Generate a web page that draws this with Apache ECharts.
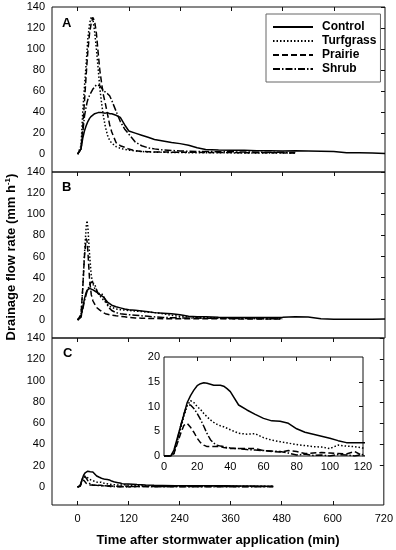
<!DOCTYPE html>
<html><head><meta charset="utf-8">
<script src="https://cdn.jsdelivr.net/npm/echarts@6/dist/echarts.min.js"></script>
<style>html,body{margin:0;padding:0;background:#fff}#c{width:396px;height:550px}</style>
</head><body><div id="c"></div>
<script>
// ---- data ----
const seriesNames = ['Control', 'Turfgrass', 'Prairie', 'Shrub'];
const xTicks = [0, 120, 240, 360, 480, 600, 720];
const yTicks = [0, 20, 40, 60, 80, 100, 120, 140];

// Panels A and B share the time grid (min)
const timeAB = [0,4,8,12,16,20,22,24,28,32,36,40,44,48,52,56,60,65,70,75,80,90,100,110,120,135,150,165,180,200,220,240,260,280,300,330,360,390,420,450,480,510,540,570,600,630,660,690,720];

const aControl = [0,0,5,15,22,27,29,31, 34,36,37.5,38.5,39,39.5,40,39.5,39, 39,39.5,38.5,38.5, 37,35,28,22, 20,18,16,14, 12.5,11,10,8.5,6,4.5, 4,3.8,3.7,3.3,3.3,3.1,3.2, 3,2.8,2.5,1.4,1.2,1,0.6];
const aTurfgrass = [0,0,8,40,64,86,98,110, 124,131,128,116,100,82,63,49,37, 26,18,13,10.5, 7.2,5.5,4.5,3.8, 3,2.5,2.1,1.9, 1.7,1.6,1.5,1.4,1.3,1.3, 1.2,1.2,1.1,1.1,1,1,1, null,null,null,null,null,null,null];
const aPrairie = [0,0,5,25,50,75,87,98, 115,125,130,126,115,97,80,68,57, 48,38,28,21, 11,8,6.5,4.8, 3.2,2.5,2.3,2, 2,1.9,1.8,1.8,1.7,1.6, 1.5,1.5,1.4,1.3,1.2,1.2,1.1, null,null,null,null,null,null,null];
const aShrub = [0,0,5,20,36,45,49,52, 56,59,62,64,66,67,65,63,61, 59,57.5,55.5,51, 41,31,24,19, 11.5,8,6,5, 4,3.5,3,2.8,2.6,2.5, 2.3,2.2,2,1.9,1.8,1.7,1.6, null,null,null,null,null,null,null];

const bControl = [0,0,3,12,20,26,28,29, 30,29.5,28.5,27.5,26.5,25,24,23,22, 19.5,17,15.5,14, 12.5,11.5,10.5,9.8, 9.2,8.5,7.8,7, 6.5,6,5,3.5,3,3, 2.7,2.5,2.4,2.4,2.5,2.7,3, 2.8,1.2,0.8,0.7,0.8,0.8,1];
const bTurfgrass = [0,0,5,30,62,88,94,88, 62,42,34,30,27,25,23,21,19.5, 17,15,13,12, 10.5,9.8,9.4,9, 8.5,8,7.5,7, 6,4.5,3.5,3,2.5,2.2, 2,1.8,1.7,1.6,1.5,1.5, null, null,null,null,null,null,null,null];
const bPrairie = [0,0,5,30,60,77,75,65, 38,24,18,15,12,10.5,9.4,8,7, 6,5.5,5,4.7, 4,3.5,3,2.5, 2,1.7,1.5,1.4, 1.3,1.3,1.2,1.2,1.2,1.1, 1.1,1.1,1,1,1,1, null, null,null,null,null,null,null,null];
const bShrub = [0,0,3,10,18,24,27,29, 33,36,37,34,29,25,24,25,23, 19,14,11,9, 7,6,5.5,5, 4.5,4,3.5,3, 2.5,2.2,2,1.9,1.8,1.7, 1.6,1.5,1.4,1.3,1.3,1.2, null, null,null,null,null,null,null,null];

// Panel C (main + inset share the same data)
const timeC = [0,4,6,8,10,12,14,16,18,20, 22,24,26,28,30,32,34,36,38,40, 45,50,55,60,65,70,75,80,85,90,95,100,105,110,115,120, 140,160,180,200, 230,260,290,320,350,380,410,440,460];
const cControl = [0,0,1.2,3.6,6,8.4,10.8,12.2,13.3,14.2, 14.6,14.8,14.7,14.5,14.3,14.3,14.3,14.1,13.6,13, 10.3,9.3,8.4,7.6,7.1,7,6.6,5.5,4.8,4.4,4,3.6,3.1,2.7,2.7,2.7, 2.2,1.8,1.5,1.4, 1.2,1.1,1,1,1,0.9,0.8,0.7,0.6];
const cTurfgrass = [0,0,0.5,3,5.5,8,10.2,11.2,10.8,10, 9.4,8.6,7.9,7.3,6.8,6.4,6.1,5.9,5.6,5.3, 4.6,4.4,4.5,3.7,3.2,2.9,2.6,2.3,2.1,1.9,1.8,1.5,2.2,2,1.9,1.6, 1.4,1.2,1.1,1, 0.9,0.9,0.8,0.8,0.7,0.7,0.6,0.6,0.6];
const cPrairie = [0,0,0.5,2.5,4.5,6.2,6.6,5.8,4.8,3.6, 2.7,2.2,1.9,1.9,1.9,1.9,1.9,1.7,1.6,1.5, 1.5,1.5,1.5,1.1,0.9,0.8,1.1,0.9,0.5,0.6,0.7,0.6,0.5,0.4,0.9,0, 0.4,0.4,0.3,0.3, 0.3,0.3,0.3,0.3,0.3,0.3,0.3,0.3,0.3];
const cShrub = [0,0,0.8,3.2,6,8.5,10.3,10.3,9.6,8.6, 7.4,6,4.5,3.3,2.6,2.2,2,1.9,1.7,1.6, 1.5,1.3,1.2,1.1,1,0.9,0.6,0.2,0.4,0.1,0.2,0,0.3,0.2,0,0.3, 0.3,0.3,0.2,0.2, 0.2,0.2,0.2,0.2,0.2,0.2,0.2,0.2,0.2];

const insetXTicks = [0, 20, 40, 60, 80, 100, 120];
const insetYTicks = [0, 5, 10, 15, 20];

// ---- styling ----
const FONT = '"Liberation Sans", Arial, sans-serif';
const lineTypes = {
  Control: 'solid',
  Turfgrass: [1.5, 2],
  Prairie: [6, 3],
  Shrub: [7, 2, 1.5, 2]
};

function pairs(times, vals) {
  const out = [];
  for (let i = 0; i < times.length; i++) {
    if (vals[i] !== null && vals[i] !== undefined) out.push([times[i], vals[i]]);
  }
  return out;
}
function mk(name, xi, yi, times, vals) {
  return {
    name, type: 'line', xAxisIndex: xi, yAxisIndex: yi,
    data: pairs(times, vals), symbol: 'none', showSymbol: false,
    lineStyle: { color: '#000', width: 1.5, type: lineTypes[name] },
    itemStyle: { color: '#000' },
    animation: false, clip: true
  };
}

const grids = [
  { left: 52, width: 333, top: 7, height: 165 },
  { left: 52, width: 333, top: 172, height: 166 },
  { left: 52, width: 333, top: 338, height: 167 },
  { left: 164, width: 199, top: 357, height: 99, backgroundColor: '#fff' }
].map(g => Object.assign({ show: true, borderColor: '#111', borderWidth: 1, backgroundColor: 'transparent' }, g));

const noLine = { show: false, onZero: false };
const tickStyle = { color: '#111' };

function xTickAxis(gi, pos) {
  return {
    type: 'value', gridIndex: gi, position: pos, min: -60, max: 720,
    axisLine: noLine, splitLine: { show: false },
    axisLabel: { show: false },
    axisTick: { show: true, inside: true, length: 4, lineStyle: tickStyle, customValues: xTicks.slice(0, 6) }
  };
}
function yLeft(gi) {
  return {
    type: 'value', gridIndex: gi, position: 'left', min: -17, max: 140,
    axisLine: noLine, splitLine: { show: false }, axisTick: { show: false },
    axisLabel: { show: true, customValues: yTicks, margin: 7, fontSize: 11, color: '#000', fontFamily: FONT }
  };
}
function yRight(gi) {
  return {
    type: 'value', gridIndex: gi, position: 'right', min: -17, max: 140,
    axisLine: noLine, splitLine: { show: false },
    axisLabel: { show: false },
    axisTick: { show: true, inside: true, length: 4, lineStyle: tickStyle, customValues: yTicks.slice(1) }
  };
}

const xAxis = [
  xTickAxis(0, 'top'),
  xTickAxis(1, 'top'),
  {
    type: 'value', gridIndex: 2, position: 'bottom', min: -60, max: 720,
    axisLine: noLine, splitLine: { show: false },
    axisLabel: { show: true, customValues: xTicks, margin: 8, fontSize: 11, color: '#000', fontFamily: FONT },
    axisTick: { show: true, inside: true, length: 4, lineStyle: tickStyle, customValues: xTicks.slice(0, 6) }
  },
  xTickAxis(2, 'top'),
  {
    type: 'value', gridIndex: 3, position: 'bottom', min: 0, max: 120,
    axisLine: noLine, splitLine: { show: false }, axisTick: { show: false },
    axisLabel: { show: true, customValues: insetXTicks, margin: 5, fontSize: 11, color: '#000', fontFamily: FONT }
  },
  {
    type: 'value', gridIndex: 3, position: 'top', min: 0, max: 120,
    axisLine: noLine, splitLine: { show: false }, axisLabel: { show: false },
    axisTick: { show: true, inside: true, length: 4, lineStyle: tickStyle, customValues: insetXTicks.slice(1, 6) }
  }
];
const yAxis = [
  yLeft(0), yRight(0), yLeft(1), yRight(1), yLeft(2), yRight(2),
  {
    type: 'value', gridIndex: 3, position: 'left', min: 0, max: 20,
    axisLine: noLine, splitLine: { show: false }, axisTick: { show: false },
    axisLabel: { show: true, customValues: insetYTicks, margin: 4, fontSize: 11, color: '#000', fontFamily: FONT }
  },
  {
    type: 'value', gridIndex: 3, position: 'right', min: 0, max: 20,
    axisLine: noLine, splitLine: { show: false }, axisLabel: { show: false },
    axisTick: { show: true, inside: true, length: 4, lineStyle: tickStyle, customValues: insetYTicks.slice(1, 4) }
  }
];

const series = [
  mk('Control', 0, 0, timeAB, aControl),
  mk('Turfgrass', 0, 0, timeAB, aTurfgrass),
  mk('Prairie', 0, 0, timeAB, aPrairie),
  mk('Shrub', 0, 0, timeAB, aShrub),
  mk('Control', 1, 2, timeAB, bControl),
  mk('Turfgrass', 1, 2, timeAB, bTurfgrass),
  mk('Prairie', 1, 2, timeAB, bPrairie),
  mk('Shrub', 1, 2, timeAB, bShrub),
  mk('Control', 2, 4, timeC, cControl),
  mk('Turfgrass', 2, 4, timeC, cTurfgrass),
  mk('Prairie', 2, 4, timeC, cPrairie),
  mk('Shrub', 2, 4, timeC, cShrub),
  mk('Control', 4, 6, timeC, cControl),
  mk('Turfgrass', 4, 6, timeC, cTurfgrass),
  mk('Prairie', 4, 6, timeC, cPrairie),
  mk('Shrub', 4, 6, timeC, cShrub)
];

const chart = echarts.init(document.getElementById('c'), null, { renderer: 'canvas' });
chart.setOption({
  animation: false,
  backgroundColor: '#fff',
  grid: grids,
  xAxis, yAxis, series,
  legend: {
    data: seriesNames, orient: 'vertical', left: 266, top: 14,
    itemWidth: 40, itemHeight: 10, itemGap: 2,
    padding: [7, 4, 7, 6], borderColor: '#666', borderWidth: 1, backgroundColor: '#fff',
    selectedMode: false,
    itemStyle: { opacity: 0 },
    lineStyle: { opacity: 1 },
    textStyle: { fontSize: 12, fontWeight: 'bold', color: '#000', fontFamily: FONT, lineHeight: 12, padding: [0, 0, 0, 4] }
  },
  graphic: [
    { type: 'text', left: 62, top: 17, style: { text: 'A', font: 'bold 13px ' + FONT, fill: '#000' } },
    { type: 'text', left: 62, top: 181, style: { text: 'B', font: 'bold 13px ' + FONT, fill: '#000' } },
    { type: 'text', left: 63, top: 347, style: { text: 'C', font: 'bold 13px ' + FONT, fill: '#000' } },
    { type: 'text', x: 218, y: 540, style: { text: 'Time after stormwater application (min)', font: 'bold 13px ' + FONT, fill: '#000', align: 'center', verticalAlign: 'middle' } },
    { type: 'text', x: 11, y: 257, rotation: Math.PI / 2,
      style: {
        text: '{a|Drainage flow rate (mm h}{s|-1}{a|)}',
        align: 'center', verticalAlign: 'middle',
        rich: {
          a: { font: 'bold 13px ' + FONT, fill: '#000', color: '#000' },
          s: { font: 'bold 8px ' + FONT, fill: '#000', color: '#000', verticalAlign: 'top', padding: [0, 0, 6, 0] }
        }
      } }
  ]
});
</script>
</body></html>
